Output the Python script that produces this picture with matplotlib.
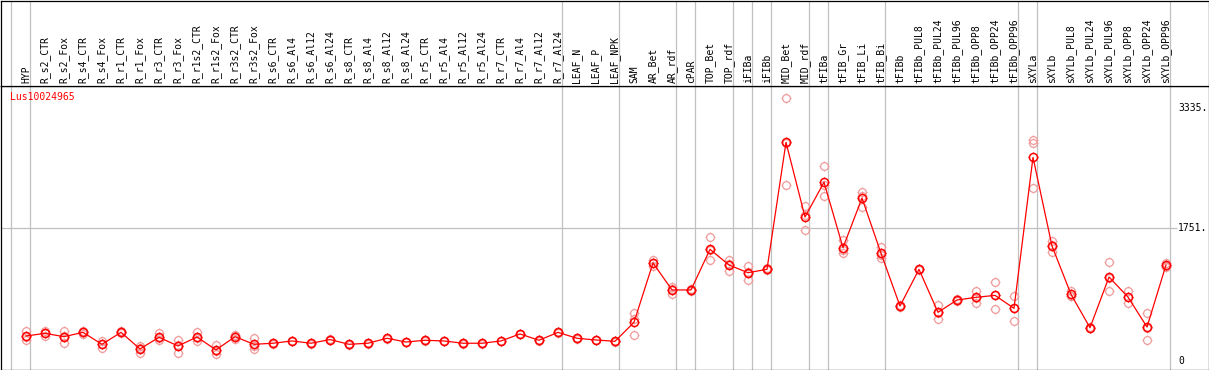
import matplotlib
matplotlib.use("Agg")
import matplotlib.pyplot as plt
from matplotlib.path import Path
import numpy as np

categories = ["HYP", "R_s2_CTR", "R_s2_Fox", "R_s4_CTR", "R_s4_Fox", "R_r1_CTR", "R_r1_Fox",
              "R_r3_CTR", "R_r3_Fox", "R_r1s2_CTR", "R_r1s2_Fox", "R_r3s2_CTR", "R_r3s2_Fox",
              "R_s6_CTR", "R_s6_Al4", "R_s6_Al12", "R_s6_Al24", "R_s8_CTR", "R_s8_Al4",
              "R_s8_Al12", "R_s8_Al24", "R_r5_CTR", "R_r5_Al4", "R_r5_Al12", "R_r5_Al24",
              "R_r7_CTR", "R_r7_Al4", "R_r7_Al12", "R_r7_Al24", "LEAF_N", "LEAF_P", "LEAF_NPK",
              "SAM", "AR_Bet", "AR_rdf", "cPAR", "TOP_Bet", "TOP_rdf", "iFIBa", "iFIBb",
              "MID_Bet", "MID_rdf", "tFIBa", "tFIB_Gr", "tFIB_Li", "tFIB_Bi", "tFIBb",
              "tFIBb_PUL8", "tFIBb_PUL24", "tFIBb_PUL96", "tFIBb_OPP8", "tFIBb_OPP24",
              "tFIBb_OPP96", "sXYLa", "sXYLb", "sXYLb_PUL8", "sXYLb_PUL24", "sXYLb_PUL96",
              "sXYLb_OPP8", "sXYLb_OPP24", "sXYLb_OPP96"]

means = [335, 370, 326, 383, 226, 383, 165, 318, 204, 322, 152, 326, 226,
         240, 270, 240, 288, 226, 240, 305, 256, 279, 270, 240, 240,
         270, 362, 279, 383, 305, 283, 265,
         515, 1295, 940, 940, 1474, 1268, 1167, 1211,
         2880, 1899, 2355, 1496, 2148, 1422, 729,
         1211, 646, 808, 843, 869, 699,
         2683, 1518, 883, 444, 1110, 847, 453, 1268]

rep1 = [405, 405, 405, 400, 270, 395, 205, 370, 282, 392, 217, 345, 304,
        245, 275, 245, 292, 230, 245, 310, 260, 283, 274, 244, 244,
        274, 366, 283, 387, 309, 287, 269,
        640, 1335, 985, 950, 1640, 1330, 1255, 1225,
        3458, 2048, 2565, 1597, 2232, 1500, 740,
        1220, 743, 818, 926, 1045, 861,
        2911, 1583, 926, 452, 1308, 926, 633, 1299]

rep2 = [320, 370, 335, 385, 235, 383, 180, 305, 220, 305, 140, 330, 210,
        240, 270, 240, 288, 226, 240, 305, 256, 279, 270, 240, 240,
        270, 362, 279, 383, 305, 283, 265,
        560, 1300, 950, 940, 1460, 1280, 1180, 1210,
        2867, 1926, 2325, 1461, 2177, 1401, 729,
        1211, 640, 808, 839, 876, 708,
        2867, 1528, 862, 444, 1096, 842, 444, 1259]

rep3 = [280, 335, 240, 365, 175, 370, 110, 280, 110, 270, 99, 300, 165,
        235, 265, 235, 284, 222, 235, 300, 252, 275, 266, 236, 236,
        266, 358, 275, 379, 301, 279, 261,
        345, 1250, 885, 930, 1330, 1195, 1065, 1200,
        2315, 1723, 2175, 1430, 2035, 1365, 718,
        1200, 555, 798, 764, 686, 528,
        2275, 1443, 861, 436, 926, 773, 282, 1246]

group_starts = [0, 1, 29, 32, 35, 36, 38, 39, 40, 42, 43, 46, 53, 54, 61]
ytick_vals = [0, 1751, 3335]
ytick_labels = ["0", "1751.", "3335."]
gene = "Lus10024965"

W, H = 1209, 370
fig = plt.figure(figsize=(W / 100, H / 100), dpi=100)

# pixel geometry
x0_px, dx_px = 26, 19
left_px, right_px = 0.5, 1208.5
top_plot_px, bot_px = 85.5, 369.5
zero_px, scale = 361.5, 0.0761

def fx(px):
    return px / W

def fy(py):
    return 1 - py / H

xlim = ((left_px - x0_px) / dx_px, (right_px - x0_px) / dx_px)
ylim = ((zero_px - bot_px) / scale, (zero_px - top_plot_px) / scale)

ax = fig.add_axes([fx(left_px), fy(bot_px), fx(right_px - left_px), (bot_px - top_plot_px) / H])
axl = fig.add_axes([fx(left_px), fy(top_plot_px), fx(right_px - left_px), (top_plot_px - 0.5) / H])

for a in (ax, axl):
    a.set_xlim(*xlim)
    a.set_xticks([])
    a.set_yticks([])
    for s in a.spines.values():
        s.set_linewidth(0.9)
        s.set_color("black")
ax.set_ylim(*ylim)
axl.set_ylim(0, 1)

gray = "#c0c0c0"
for g in group_starts:
    xv = g - 15 / dx_px
    ax.axvline(xv, color=gray, lw=0.9, zorder=1)
    axl.axvline(xv, color=gray, lw=0.9, zorder=1)

# horizontal grid line at 1751
x_grid_end = (1177 - x0_px) / dx_px
ax.hlines(1751, xlim[0], x_grid_end, color=gray, lw=0.9, zorder=1)

# stub marker (four short ticks around the circle)
stubs = Path([[0, 0.75], [0, 1.0], [0, -0.75], [0, -1.0],
              [0.75, 0], [1.0, 0], [-0.75, 0], [-1.0, 0]],
             [Path.MOVETO, Path.LINETO] * 4)

xs = np.arange(len(categories))
rep_col = "#f09a9a"
for reps in (rep1, rep2, rep3):
    ax.plot(xs, reps, linestyle="none", marker="o", markersize=5.6, markerfacecolor="none",
            markeredgecolor=rep_col, markeredgewidth=0.9, zorder=2)
    ax.plot(xs, reps, linestyle="none", marker=stubs, markersize=7.6,
            markeredgecolor=rep_col, markeredgewidth=0.8, zorder=2)
ax.plot(xs, means, color="#ff0000", lw=0.9, marker="o", markersize=5.8,
        markerfacecolor="none", markeredgecolor="#ff0000", markeredgewidth=1.1, zorder=3)
ax.plot(xs, means, linestyle="none", marker=stubs, markersize=7.8,
        markeredgecolor="#ff0000", markeredgewidth=0.9, zorder=3)

font = dict(family="DejaVu Sans Mono", fontsize=7)
for i, c in enumerate(categories):
    axl.text(i, (top_plot_px - 83) / (top_plot_px - 0.5), c, rotation=90, ha="center",
             va="bottom", **font)

# y labels
for v, lab in zip(ytick_vals, ytick_labels):
    ax.text((1178 - x0_px) / dx_px, v, lab, ha="left", va="center", **font)

ax.text((10 - x0_px) / dx_px, (zero_px - 97) / scale, gene, color="#ff0000", ha="left",
        va="center", **font)

fig.savefig("out.png", dpi=100)
